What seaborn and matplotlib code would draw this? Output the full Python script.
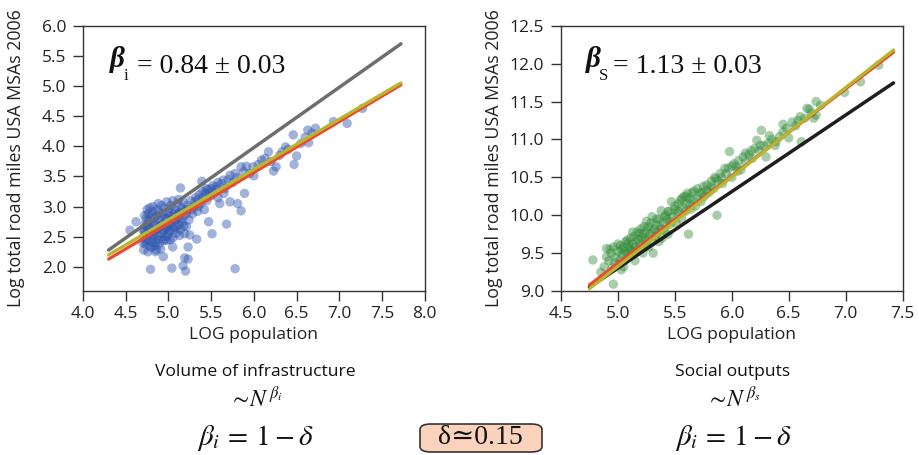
import numpy as np
import pandas as pd
import matplotlib.pyplot as plt
import seaborn as sns
from matplotlib.patches import FancyBboxPatch

# infrastructure panel (left): log population vs log road miles
infra_x = [4.70, 4.72, 4.73, 4.74, 4.75, 4.76, 4.77, 4.78, 4.79, 4.80, 4.81, 4.82, 4.83, 4.84, 4.85,
           4.86, 4.87, 4.88, 4.89, 4.90, 4.91, 4.92, 4.93, 4.94, 4.95, 4.96, 4.97, 4.98, 4.99, 5.00,
           5.01, 5.02, 5.03, 5.04, 5.05, 5.06, 5.07, 5.08, 5.09, 5.10, 5.11, 5.12, 5.13, 5.14, 5.15,
           5.16, 5.17, 5.18, 5.19, 5.20, 5.22, 5.24, 5.26, 5.28, 5.30, 5.32, 5.34, 5.36, 5.38, 5.40,
           4.70, 4.71, 4.73, 4.76, 4.80, 4.85, 4.72, 4.75, 4.78, 4.82, 4.88, 4.92, 4.98, 5.05, 5.12,
           4.79, 5.04, 5.17, 5.20, 5.19, 5.23, 5.78, 5.05, 5.23, 5.33, 5.47, 5.51, 5.68, 4.94, 4.86,
           4.98, 5.13, 5.21, 5.25, 4.62, 4.55,
           5.14, 5.39, 5.89, 5.85, 5.81, 5.72, 5.60, 5.44, 5.48, 5.52, 5.55, 5.56, 5.58, 5.62, 5.64,
           5.66, 5.70, 5.72, 5.75, 5.78, 5.80, 5.85, 5.88, 5.91, 5.95, 5.99, 6.00, 6.05, 6.09, 6.13,
           6.17, 6.20, 6.23, 6.26, 6.30, 6.33, 6.37, 6.40, 6.46, 6.47, 6.50, 6.55, 6.60, 6.63, 6.64,
           6.68, 6.72, 6.93, 7.09, 7.27, 5.45, 5.50, 5.35, 5.42, 5.58, 5.65,
           4.71, 4.72, 4.74, 4.74, 4.76, 4.77, 4.78, 4.79, 4.80, 4.81, 4.82, 4.83, 4.84, 4.85, 4.86,
           4.87, 4.88, 4.89, 4.90, 4.91, 4.92, 4.93, 4.94, 4.95, 4.96, 4.97, 4.99, 5.00, 5.01, 5.02,
           5.03, 5.05, 5.06, 5.08, 5.10, 5.12, 5.14, 5.16, 5.18, 5.21, 5.23, 5.27, 5.31, 5.35, 5.40,
           5.43, 5.46, 5.50]
infra_y = [2.62, 2.70, 2.55, 2.80, 2.45, 2.88, 2.66, 2.35, 2.75, 2.58, 2.92, 2.48, 2.70, 2.82, 2.40,
           2.62, 2.95, 2.52, 2.76, 2.68, 2.30, 2.85, 2.58, 2.72, 2.44, 2.98, 2.65, 2.80, 2.52, 2.90,
           2.70, 2.60, 3.02, 2.78, 2.48, 2.88, 2.66, 2.95, 2.56, 2.80, 3.05, 2.70, 2.90, 2.62, 2.98,
           2.75, 3.08, 2.84, 2.55, 2.95, 3.02, 2.78, 3.10, 2.88, 3.00, 3.15, 2.92, 3.20, 3.05, 3.25,
           2.40, 2.28, 2.38, 2.25, 2.32, 2.25, 2.85, 2.95, 2.98, 3.00, 3.05, 3.02, 3.08, 3.10, 3.12,
           1.96, 1.98, 2.02, 1.93, 2.15, 2.13, 1.97, 2.33, 2.33, 2.46, 2.75, 2.55, 2.71, 2.17, 2.28,
           2.44, 2.52, 2.67, 2.53, 2.75, 2.61,
           3.31, 3.42, 3.22, 2.93, 3.05, 3.08, 3.05, 3.30, 3.22, 3.35, 3.28, 3.33, 3.40, 3.38, 3.44,
           3.30, 3.45, 3.52, 3.40, 3.55, 3.48, 3.66, 3.58, 3.67, 3.55, 3.66, 3.51, 3.70, 3.77, 3.80,
           3.91, 3.75, 3.59, 3.66, 3.85, 3.91, 3.99, 3.95, 4.19, 3.70, 3.84, 4.05, 4.15, 4.27, 4.06,
           4.22, 4.30, 4.41, 4.38, 4.63, 3.10, 3.18, 3.00, 2.95, 3.15, 3.22,
           2.50, 2.60, 2.68, 2.42, 2.55, 2.78, 2.50, 2.62, 2.85, 2.40, 2.60, 2.52, 2.35, 2.72, 2.85,
           2.45, 2.65, 2.38, 2.90, 2.55, 2.70, 2.45, 2.88, 2.62, 2.50, 2.80, 2.68, 2.58, 2.85, 2.45,
           2.72, 2.92, 2.62, 2.78, 2.65, 2.88, 2.78, 2.92, 2.68, 2.88, 2.95, 2.95, 3.08, 3.12, 3.15,
           3.22, 3.28, 3.30]

# social outputs panel (right)
social_x = [4.78, 4.85, 4.88, 4.90, 4.92, 4.95, 4.96, 4.96, 4.98, 5.00, 5.00, 5.02, 5.02, 5.04, 5.05,
            5.05, 5.06, 5.07, 5.08, 5.08, 5.10, 5.10, 5.11, 5.12, 5.13, 5.14, 5.14, 5.15, 5.16, 5.17,
            5.18, 5.19, 5.20, 5.21, 5.22, 5.23, 5.24, 5.25, 5.26, 5.27, 5.28, 5.29, 5.30, 5.31, 5.32,
            5.33, 5.34, 5.35, 5.36, 5.37, 5.38, 5.39, 5.40, 5.41, 5.42, 5.43, 5.44, 5.45, 5.46, 5.47,
            5.48, 5.50, 5.51, 5.52, 5.53, 5.55, 5.56, 5.57, 5.58, 5.59, 5.60, 5.61, 5.62, 5.63, 5.64,
            5.65, 5.66, 5.68, 5.70, 5.72, 5.73, 5.75, 5.76, 5.78, 5.80, 5.82, 5.84, 5.85, 5.87, 5.88,
            5.90, 5.92, 5.95, 5.97, 5.98, 6.00, 6.02, 6.04, 6.06, 6.08, 6.10, 6.12, 6.15, 6.18, 6.20,
            6.22, 6.24, 6.26, 6.28, 6.30, 6.32, 6.35, 6.38, 6.39, 6.42, 6.45, 6.48, 6.50, 6.53, 6.56,
            6.60, 6.61, 6.64, 6.66, 6.70, 6.74, 6.74, 6.78, 6.99, 7.13, 7.29, 5.30, 5.25, 4.93, 5.03,
            4.90, 4.94, 4.97, 5.00, 5.03, 5.06, 5.09, 5.11, 5.13, 5.15, 5.18, 5.20, 5.22, 5.24, 5.27,
            5.30, 5.33, 5.36, 5.38, 5.41, 5.44, 5.47, 5.50, 5.53, 5.56, 5.60, 5.63, 5.67, 5.70, 5.74,
            5.78, 5.82, 5.86, 5.91, 5.94, 6.00, 6.05, 6.12, 6.17, 6.25, 6.33, 6.45, 6.58, 6.68, 6.72]
social_y = [9.41, 9.25, 9.32, 9.56, 9.40, 9.30, 9.58, 9.09, 9.45, 9.52, 9.35, 9.41, 9.60, 9.48, 9.32,
            9.58, 9.40, 9.65, 9.50, 9.67, 9.45, 9.58, 9.70, 9.52, 9.62, 9.72, 9.50, 9.40, 9.66, 9.78,
            9.55, 9.76, 9.62, 9.70, 9.50, 9.85, 9.60, 9.80, 9.68, 9.58, 9.75, 9.90, 9.65, 9.50, 9.82,
            9.72, 9.95, 9.78, 9.65, 9.85, 10.06, 9.70, 9.90, 9.80, 10.00, 9.94, 9.75, 10.05, 9.88, 10.18,
            9.98, 10.08, 9.90, 10.02, 10.15, 10.20, 9.95, 10.10, 10.25, 10.05, 10.15, 10.29, 9.75, 10.22, 10.08,
            10.30, 10.20, 10.12, 10.35, 10.29, 10.18, 10.38, 10.25, 10.40, 10.30, 10.45, 10.35, 10.50, 10.00, 10.45,
            10.55, 10.42, 10.55, 10.62, 10.84, 10.50, 10.68, 10.64, 10.72, 10.60, 10.77, 10.70, 10.80, 10.75, 10.88,
            10.99, 10.85, 11.12, 10.92, 10.77, 10.95, 11.00, 10.92, 10.97, 11.04, 11.10, 11.15, 11.02, 11.23, 11.18,
            11.30, 10.97, 11.28, 11.41, 11.35, 11.50, 11.32, 11.45, 11.62, 11.76, 11.98, 9.98, 9.92, 9.55, 9.28,
            9.45, 9.50, 9.38, 9.62, 9.55, 9.52, 9.62, 9.55, 9.78, 9.58, 9.68, 9.82, 9.75, 9.70, 9.85,
            9.78, 9.88, 9.95, 9.82, 9.98, 10.05, 9.92, 10.12, 10.05, 10.22, 10.25, 10.15, 10.32, 10.22, 10.30,
            10.33, 10.38, 10.48, 10.50, 10.62, 10.65, 10.58, 10.82, 10.85, 10.92, 11.05, 11.20, 11.25, 11.40, 11.28]

# fitted lines: (slope, intercept) and x extent
infra_fit_x = [4.30, 7.72]
infra_lines = {"linear": (1.000, -2.020), "fit": (0.834, -1.386), "model": (0.845, -1.504)}
social_fit_x = [4.75, 7.42]
social_lines = {"linear": (1.010, 4.252), "model": (1.150, 3.6175), "fit": (1.180, 3.425)}

sns.set_style("ticks")
plt.rcParams["font.family"] = ["Open Sans", "DejaVu Sans"]
plt.rcParams["mathtext.fontset"] = "stix"

fig = plt.figure(figsize=(9.19, 4.55), dpi=100)
ax1 = fig.add_axes([0.0903, 0.3604, 0.372, 0.583])
ax2 = fig.add_axes([0.6104, 0.3604, 0.3718, 0.583])

sns.scatterplot(x=infra_x, y=infra_y, ax=ax1, color="#2f56b0", alpha=0.45, s=46, edgecolor="none")
sns.scatterplot(x=social_x, y=social_y, ax=ax2, color="#2e8a36", alpha=0.42, s=46, edgecolor="none")


def draw_line(ax, xs, slope, icpt, color, lw):
    xs = np.array(xs)
    df = pd.DataFrame({"x": xs, "y": slope * xs + icpt})
    sns.lineplot(data=df, x="x", y="y", ax=ax, color=color, lw=lw)


draw_line(ax1, infra_fit_x, *infra_lines["linear"], "#6e6e6e", 2.5)
draw_line(ax1, infra_fit_x, *infra_lines["model"], "#ec4a30", 2.3)
draw_line(ax1, infra_fit_x, *infra_lines["fit"], "#b8b62c", 2.3)

draw_line(ax2, social_fit_x, *social_lines["linear"], "#1e1e1e", 2.5)
draw_line(ax2, social_fit_x, *social_lines["model"], "#ec4a30", 2.3)
draw_line(ax2, social_fit_x, *social_lines["fit"], "#b8b62c", 2.3)

ax1.set_xlim(4.0, 8.0)
ax1.set_ylim(1.6, 6.0)
ax1.set_xticks(np.arange(4.0, 8.01, 0.5))
ax1.set_yticks(np.arange(2.0, 6.01, 0.5))
ax2.set_xlim(4.5, 7.5)
ax2.set_ylim(9.0, 12.5)
ax2.set_xticks(np.arange(4.5, 7.51, 0.5))
ax2.set_yticks(np.arange(9.0, 12.51, 0.5))

for ax in (ax1, ax2):
    ax.xaxis.set_major_formatter(plt.FormatStrFormatter("%.1f"))
    ax.yaxis.set_major_formatter(plt.FormatStrFormatter("%.1f"))
    for sp in ax.spines.values():
        sp.set_visible(True)
        sp.set_color("#333333")
        sp.set_linewidth(1.0)
    ax.tick_params(direction="out", length=7.5, width=1, color="#333333",
                   labelsize=12.5, labelcolor="#222222")
    ax.tick_params(axis="y", pad=4.5)
    ax.tick_params(axis="x", pad=3.5)
    ax.set_xlabel("LOG population", fontsize=12.6, color="#222222", va="top")
    ax.set_ylabel("Log total road miles USA MSAs 2006", fontsize=12.8, color="#222222")
    ax.xaxis.set_label_coords(0.5, -0.135)
    ax.yaxis.set_label_coords(-0.171, 0.5)

# beta annotations
serif = ["Liberation Serif", "DejaVu Serif"]
for ax, sub, val, x0 in ((ax1, "i", "= 0.84 \u00b1 0.03", 0.079), (ax2, "S", "= 1.13 \u00b1 0.03", 0.072)):
    t = ax.annotate("\u03b2", xy=(x0, 0.845), xycoords="axes fraction", fontsize=21,
                    family=serif, weight="bold", style="italic", color="#111111")
    ax.annotate(sub, xy=(1.0, 0.0), xycoords=t, xytext=(-1, -5), textcoords="offset points",
                fontsize=12, family=serif, color="#111111")
    ax.annotate(val, xy=(1.0, 0.0), xycoords=t, xytext=(9, 0), textcoords="offset points",
                fontsize=20, family=serif, color="#111111")

# captions under panels
fig.text(255 / 919, 1 - 372 / 455, "Volume of infrastructure", ha="center", va="center",
         fontsize=12.6, color="#111111")
fig.text(733 / 919, 1 - 372 / 455, "Social outputs", ha="center", va="center",
         fontsize=12.6, color="#111111")
fig.text(256 / 919, 1 - 400 / 455, r"$\sim\!N^{\,\beta_i}$", ha="center", va="center",
         fontsize=17, color="#111111")
fig.text(734 / 919, 1 - 400 / 455, r"$\sim\!N^{\,\beta_s}$", ha="center", va="center",
         fontsize=17, color="#111111")
fig.text(255 / 919, 1 - 438 / 455, r"$\beta_i\,{=}\,1 - \delta$", ha="center", va="center",
         fontsize=21, color="#111111")
fig.text(733 / 919, 1 - 438 / 455, r"$\beta_i\,{=}\,1 - \delta$", ha="center", va="center",
         fontsize=21, color="#111111")

box = FancyBboxPatch((420 / 919, 1 - 452 / 455), 122 / 919, 28 / 455,
                     boxstyle="round,pad=0,rounding_size=0.012", transform=fig.transFigure,
                     facecolor="#fbd3bd", edgecolor="#333333", lw=1.2)
fig.add_artist(box)
fig.text(480 / 919, 1 - 437 / 455, "\u03b4\u22430.15", ha="center", va="center",
         fontsize=20, family=serif, color="#111111")

fig.savefig("out.png", dpi=100)
